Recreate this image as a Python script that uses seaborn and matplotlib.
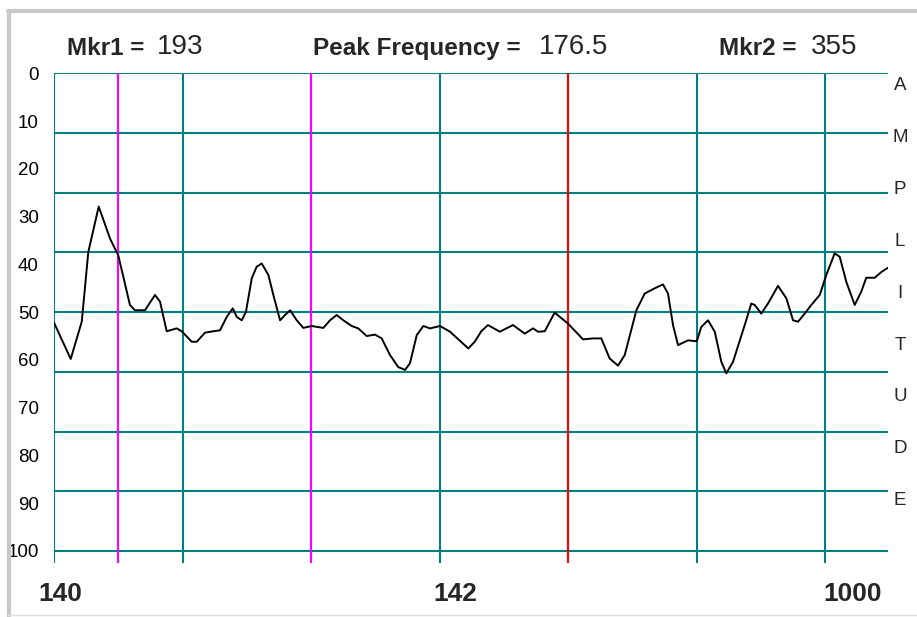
import matplotlib
matplotlib.use("Agg")
import matplotlib.pyplot as plt
from matplotlib.lines import Line2D
import numpy as np
import pandas as pd
import seaborn as sns

# Trace position in grid divisions and amplitude reading (0 = top, 100 = bottom)
division = [
    0.000, 0.130, 0.216, 0.267, 0.348, 0.436, 0.500, 0.591, 0.630, 0.708,
    0.786, 0.825, 0.877, 0.955, 0.994, 1.072, 1.111, 1.175, 1.240, 1.292,
    1.344, 1.391, 1.422, 1.461, 1.494, 1.539, 1.577, 1.616, 1.668, 1.707,
    1.759, 1.798, 1.837, 1.889, 1.940, 2.005, 2.096, 2.148, 2.200, 2.251,
    2.317, 2.368, 2.433, 2.498, 2.550, 2.615, 2.679, 2.732, 2.770, 2.823,
    2.874, 2.926, 3.004, 3.082, 3.224, 3.274, 3.325, 3.377, 3.469, 3.572,
    3.663, 3.728, 3.767, 3.819, 3.896, 4.000, 4.117, 4.195, 4.259, 4.324,
    4.389, 4.441, 4.532, 4.597, 4.675, 4.739, 4.778, 4.817, 4.856, 4.934,
    5.002, 5.037, 5.089, 5.142, 5.193, 5.232, 5.284, 5.375, 5.426, 5.453,
    5.504, 5.556, 5.634, 5.699, 5.751, 5.790, 5.842, 5.893, 5.959, 6.010,
    6.075, 6.114, 6.166, 6.231, 6.282, 6.321, 6.387, 6.438, 6.490,
]
amplitude = [
    52.2, 59.8, 52.0, 37.4, 27.9, 34.6, 38.1, 48.5, 49.6, 49.6,
    46.4, 47.8, 54.0, 53.4, 54.0, 56.2, 56.2, 54.3, 54.0, 53.8,
    51.0, 49.2, 51.0, 51.7, 49.9, 42.9, 40.5, 39.8, 42.2, 46.4,
    51.7, 50.6, 49.6, 51.7, 53.3, 52.9, 53.3, 51.7, 50.6, 51.7,
    52.9, 53.4, 55.0, 54.7, 55.5, 59.0, 61.5, 62.1, 60.7, 54.8,
    52.9, 53.4, 52.9, 54.1, 57.6, 56.2, 54.0, 52.7, 54.1, 52.7,
    54.5, 53.4, 54.1, 54.0, 50.1, 52.4, 55.7, 55.5, 55.5, 59.7,
    61.2, 59.0, 49.6, 46.1, 45.0, 44.2, 46.1, 52.7, 56.9, 55.9,
    56.1, 53.1, 51.7, 54.1, 60.4, 62.8, 60.4, 52.7, 48.2, 48.5,
    50.3, 48.2, 44.5, 47.1, 51.7, 52.0, 50.3, 48.5, 46.4, 42.2,
    37.7, 38.4, 43.7, 48.5, 45.7, 42.8, 42.8, 41.6, 40.7,
]

amp_ticks = [0, 10, 20, 30, 40, 50, 60, 70, 80, 90, 100]
grid_x = [0, 1, 2, 3, 4, 5, 6]
grid_y = [0, 12.5, 25, 37.5, 50, 62.5, 75, 87.5, 100]
marker_pos = [0.5, 2.0]
peak_pos = [4.0]
side_letters = ["A", "M", "P", "L", "I", "T", "U", "D", "E"]
freq_labels = ["140", "142", "1000"]
mkr1_value = "193"
peak_value = "176.5"
mkr2_value = "355"

sns.set_style("white")
plt.rcParams["font.family"] = ["Liberation Sans", "DejaVu Sans"]

W, H = 917, 617
fig = plt.figure(figsize=(W / 100, H / 100), dpi=100)
fig.patch.set_facecolor("white")

# Plot area in pixels
left, right, top, bottom = 54, 888, 73.3, 562.7
ax = fig.add_axes([left / W, 1 - bottom / H, (right - left) / W, (bottom - top) / H])
ax.set_xlim(0, 6.49)
ax.set_ylim(102.45, 0)
for s in ax.spines.values():
    s.set_visible(False)
ax.set_facecolor("white")

teal = "#008080"
for gx in grid_x:
    ax.axvline(gx, color=teal, lw=1.5, zorder=1)
for gy in grid_y:
    ax.axhline(gy, color=teal, lw=1.5, zorder=1)
for mx in marker_pos:
    ax.axvline(mx, color="#ff00ff", lw=1.5, zorder=2)
for px in peak_pos:
    ax.axvline(px, color="#ff0000", lw=1.5, zorder=2)

df = pd.DataFrame({"division": division, "amplitude": amplitude})
sns.lineplot(data=df, x="division", y="amplitude", ax=ax, color="black",
             lw=1.4, sort=False, estimator=None, zorder=3)

ax.set_xlabel("")
ax.set_ylabel("")
ax.set_xticks([])
ax.set_yticks(amp_ticks)
ax.set_yticklabels([str(t) for t in amp_ticks], fontsize=13.5, color="black")
ax.tick_params(axis="y", length=0, pad=11)

# Header readouts
fig.text(67 / W, 1 - 55 / H, "Mkr1 =", fontsize=17.5, fontweight="bold", va="baseline")
fig.text(157 / W, 1 - 53.5 / H, mkr1_value, fontsize=20, va="baseline")
fig.text(313 / W, 1 - 55 / H, "Peak Frequency =", fontsize=17.5, fontweight="bold", va="baseline")
fig.text(539 / W, 1 - 53.5 / H, peak_value, fontsize=20, va="baseline")
fig.text(719 / W, 1 - 55 / H, "Mkr2 =", fontsize=17.5, fontweight="bold", va="baseline")
fig.text(811 / W, 1 - 53.5 / H, mkr2_value, fontsize=20, va="baseline")

# Frequency labels under the trace
for lab, cx in zip(freq_labels, [60.5, 455, 852.5]):
    fig.text(cx / W, 1 - 594 / H, lab, fontsize=19, fontweight="bold",
             ha="center", va="center")

# Vertical axis caption on the right
for i, ch in enumerate(side_letters):
    fig.text(900 / W, 1 - (86 + 51.8 * i) / H, ch, fontsize=13.5,
             ha="center", va="center")

# Window frame
fig.add_artist(Line2D([8 / W, 1], [1 - 10.5 / H, 1 - 10.5 / H],
                      transform=fig.transFigure, color="#c8c8c8", lw=3))
fig.add_artist(Line2D([9 / W, 9 / W], [0, 1 - 10.5 / H],
                      transform=fig.transFigure, color="#c8c8c8", lw=3))
fig.add_artist(Line2D([8 / W, 1], [1 - 615 / H, 1 - 615 / H],
                      transform=fig.transFigure, color="#e0e0e0", lw=1))

fig.savefig("out.png", dpi=100, facecolor="white")
